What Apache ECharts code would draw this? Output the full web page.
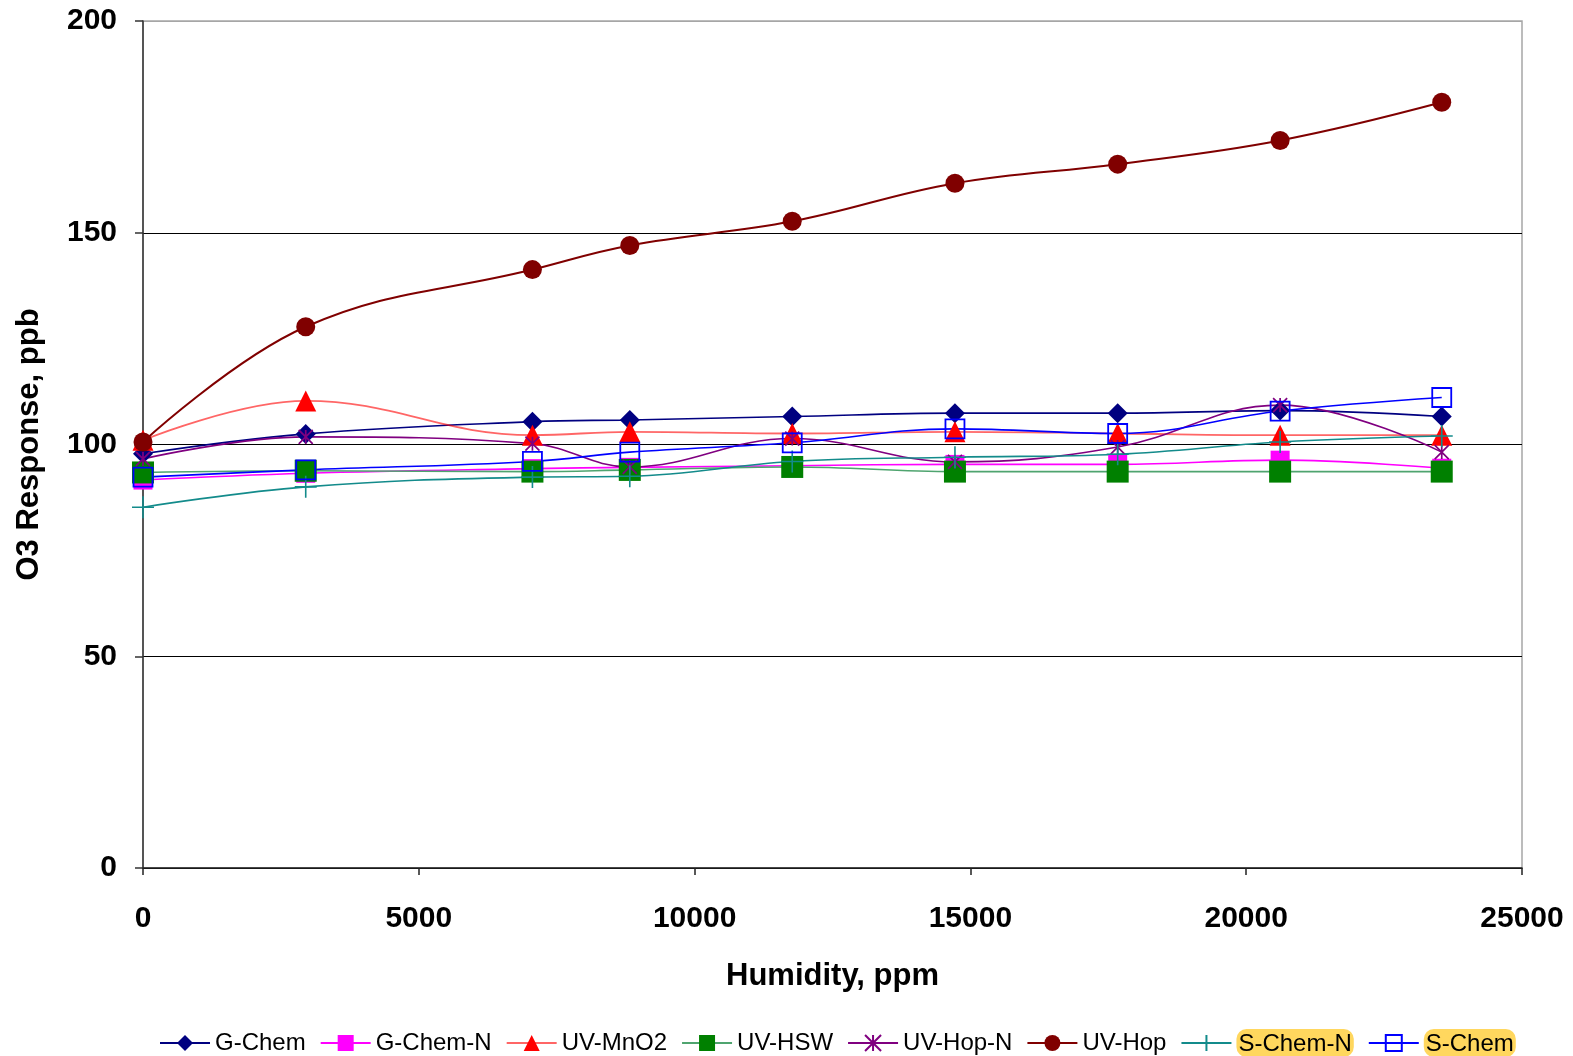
<!DOCTYPE html>
<html>
<head>
<meta charset="utf-8">
<script src="https://cdn.jsdelivr.net/npm/echarts@6/dist/echarts.min.js"></script>
<style>
  html, body { margin: 0; padding: 0; background: #fff; }
  #chart { width: 1573px; height: 1056px; }
</style>
</head>
<body>
<div id="chart"></div>
<script>
// Humidity levels (ppm) at which each analyzer was read
const humidity = [0, 2950, 7060, 8825, 11770, 14720, 17670, 20615, 23545];

// O3 response (ppb) per analyzer
const gChem   = [97.8, 102.5, 105.4, 105.8, 106.6, 107.4, 107.4, 108.0, 106.6];
const gChemN  = [91.6, 93.2, 94.3, 94.6, 95.0, 95.3, 95.3, 96.3, 94.4];
const uvMnO2  = [101.0, 110.3, 102.2, 103.0, 102.6, 103.0, 102.6, 102.2, 102.2];
const uvHSW   = [93.4, 93.8, 93.6, 94.0, 94.7, 93.6, 93.6, 93.6, 93.6];
const uvHopN  = [96.6, 101.8, 100.2, 94.7, 101.4, 95.9, 99.4, 109.3, 98.2];
const uvHop   = [100.6, 127.8, 141.3, 147.0, 152.7, 161.7, 166.2, 171.8, 180.8];
const sChemN  = [85.2, 90.0, 92.3, 92.5, 96.0, 97.0, 97.7, 100.6, 102.0];
const sChem   = [92.3, 94.0, 96.0, 98.2, 100.4, 103.7, 102.6, 107.9, 111.1];

const xTicks = [0, 5000, 10000, 15000, 20000, 25000];
const yTicks = [0, 50, 100, 150, 200];

const pair = vals => humidity.map((h, i) => [h, vals[i]]);

const FONT = '"Liberation Sans", Arial, sans-serif';

function makeSeries(name, vals, opts) {
  return {
    name: name,
    type: 'line',
    smooth: 0.4,
    data: pair(vals),
    symbol: opts.symbol,
    symbolSize: opts.size,
    lineStyle: { color: opts.line, width: opts.width || 1.6, opacity: opts.lineOpacity || 1 },
    itemStyle: opts.item,
    emphasis: { disabled: true },
    animation: false
  };
}

const asterisk = 'path://M0,0 L10,10 M10,0 L0,10 M5,0 L5,10';
const plus = 'path://M5,0 L5,10 M0,5 L10,5';

const series = [
  makeSeries('G-Chem', gChem, { symbol: 'diamond', size: 20, line: '#000080', item: { color: '#000080' } }),
  makeSeries('G-Chem-N', gChemN, { symbol: 'rect', size: 19, line: '#ff00ff', item: { color: '#ff00ff' } }),
  makeSeries('UV-MnO2', uvMnO2, { symbol: 'triangle', size: 21, line: '#ff0000', lineOpacity: 0.6, width: 1.8, item: { color: '#ff0000' } }),
  makeSeries('UV-HSW', uvHSW, { symbol: 'rect', size: 22, line: '#4fa46f', item: { color: '#008000' } }),
  makeSeries('UV-Hop-N', uvHopN, { symbol: asterisk, size: 14, line: '#800080', item: { color: 'none', borderColor: '#800080', borderWidth: 1.7 } }),
  makeSeries('UV-Hop', uvHop, { symbol: 'circle', size: 19, line: '#800000', width: 2, item: { color: '#800000' } }),
  makeSeries('S-Chem-N', sChemN, { symbol: plus, size: 22, line: '#138b8b', item: { color: 'none', borderColor: '#138b8b', borderWidth: 1.6 } }),
  makeSeries('S-Chem', sChem, { symbol: 'rect', size: 19, line: '#0000ff', item: { color: 'rgba(255,255,255,0)', borderColor: '#0000ff', borderWidth: 1.8 } })
];

const highlighted = ['S-Chem-N', 'S-Chem'];

const option = {
  backgroundColor: '#fff',
  animation: false,
  grid: {
    left: 143, right: 51, top: 21, bottom: 188,
    show: true, borderColor: '#a6a6a6', borderWidth: 1.5, backgroundColor: '#fff'
  },
  xAxis: {
    type: 'value',
    min: xTicks[0], max: xTicks[xTicks.length - 1], interval: xTicks[1] - xTicks[0],
    name: 'Humidity, ppm',
    nameLocation: 'middle',
    nameGap: 93,
    nameTextStyle: { fontFamily: FONT, fontWeight: 'bold', fontSize: 31, color: '#000' },
    axisLine: { show: true, onZero: false, lineStyle: { color: '#222', width: 1.5 } },
    axisTick: { show: true, inside: false, length: 7, lineStyle: { color: '#222', width: 1.5 } },
    axisLabel: { fontFamily: FONT, fontWeight: 'bold', fontSize: 30, color: '#000', margin: 36, formatter: v => String(v) },
    splitLine: { show: false }
  },
  yAxis: {
    type: 'value',
    min: yTicks[0], max: yTicks[yTicks.length - 1], interval: yTicks[1] - yTicks[0],
    name: 'O3 Response, ppb',
    nameLocation: 'middle',
    nameGap: 98,
    nameTextStyle: { fontFamily: FONT, fontWeight: 'bold', fontSize: 31, color: '#000' },
    axisLine: { show: true, lineStyle: { color: '#333', width: 1.5 } },
    axisTick: { show: true, inside: false, length: 8, lineStyle: { color: '#333', width: 1.5 } },
    axisLabel: { fontFamily: FONT, fontWeight: 'bold', fontSize: 30, color: '#000', margin: 26 },
    splitLine: { show: true, lineStyle: { color: ['#000', '#000', '#000', '#000', '#a6a6a6'], width: 1.2 } }
  },
  legend: {
    top: 1024,
    left: 154,
    itemWidth: 50,
    itemHeight: 20,
    itemGap: 14,
    selectedMode: false,
    textStyle: {
      fontFamily: FONT, fontSize: 24, color: '#000',
      rich: {
        hl: { fontFamily: FONT, fontSize: 24, color: '#000', backgroundColor: '#ffd75e', borderRadius: 10, padding: [3, 2, 1, 2] }
      }
    },
    formatter: name => highlighted.includes(name) ? '{hl|' + name + '}' : name,
    data: series.map(s => s.name)
  },
  series: series
};

const chart = echarts.init(document.getElementById('chart'), null, { renderer: 'canvas' });
chart.setOption(option);
</script>
</body>
</html>
